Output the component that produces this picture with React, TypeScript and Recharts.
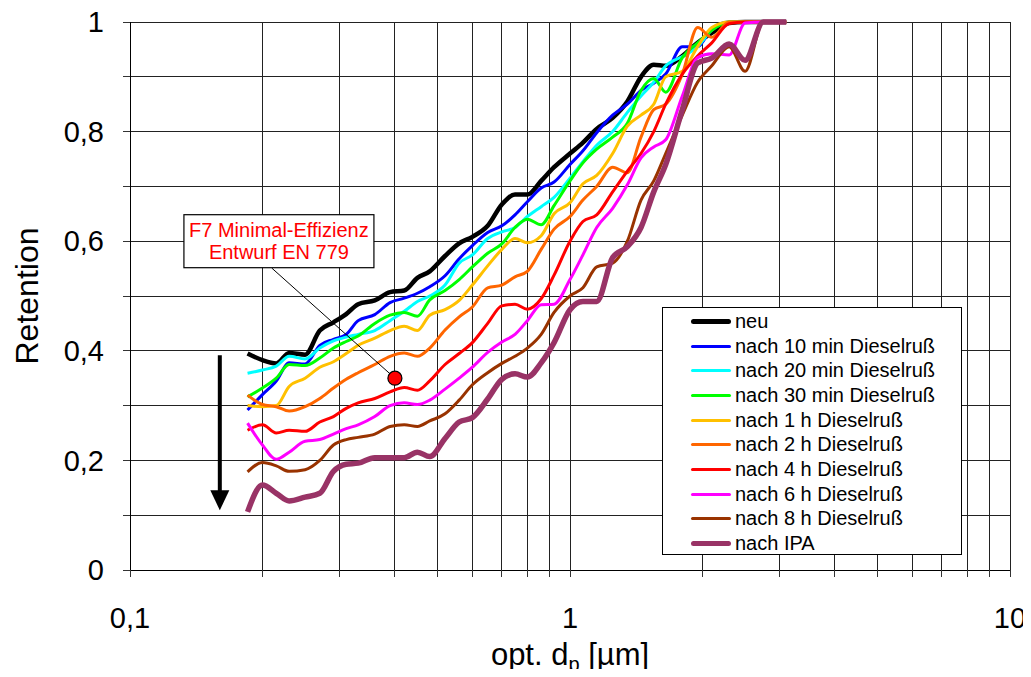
import {
  CartesianGrid,
  Label,
  Line,
  LineChart,
  ReferenceDot,
  ReferenceLine,
  XAxis,
  YAxis
} from "recharts";

// particle size [µm] at which every curve was read
const sizes = [
  0.185, 0.2, 0.215, 0.23, 0.25, 0.27, 0.29, 0.31, 0.33, 0.36, 0.39, 0.42, 0.45,
  0.48, 0.52, 0.56, 0.6, 0.65, 0.7, 0.75, 0.8, 0.86, 0.92, 1.0, 1.07, 1.15, 1.25,
  1.35, 1.45, 1.55, 1.65, 1.8, 1.95, 2.1, 2.3, 2.5, 2.75, 3.1
];

const neu = [
  0.395, 0.383, 0.377, 0.396, 0.393, 0.437, 0.452, 0.467, 0.485, 0.492, 0.507, 0.51, 0.533,
  0.545, 0.573, 0.596, 0.608, 0.628, 0.667, 0.685, 0.685, 0.71, 0.735, 0.76, 0.78, 0.805, 0.825,
  0.855, 0.9, 0.922, 0.92, 0.938, 0.962, 0.98, 0.998, 1, 1, 1
];
const min10 = [
  0.292, 0.32, 0.345, 0.378, 0.376, 0.41, 0.421, 0.43, 0.455, 0.466, 0.488, 0.496, 0.505,
  0.517, 0.537, 0.568, 0.592, 0.616, 0.628, 0.648, 0.672, 0.697, 0.708, 0.74, 0.765, 0.798, 0.83,
  0.85, 0.875, 0.888, 0.905, 0.955, 0.955, 0.988, 1, 1, 1, 1
];
const min20 = [
  0.359, 0.365, 0.372, 0.39, 0.385, 0.405, 0.418, 0.425, 0.43, 0.437, 0.455, 0.472, 0.49,
  0.5, 0.52, 0.56, 0.575, 0.605, 0.617, 0.625, 0.645, 0.663, 0.68, 0.715, 0.745, 0.775, 0.8,
  0.835, 0.865, 0.89, 0.92, 0.937, 0.955, 0.985, 1, 1, 1, 1
];
const min30 = [
  0.316, 0.332, 0.35, 0.375, 0.373, 0.387, 0.405, 0.417, 0.427, 0.45, 0.465, 0.47, 0.463,
  0.493, 0.51, 0.53, 0.553, 0.578, 0.595, 0.625, 0.64, 0.63, 0.665, 0.71, 0.743, 0.768, 0.79,
  0.815, 0.875, 0.897, 0.872, 0.935, 0.962, 0.985, 1, 1, 1, 1
];
const h1 = [
  0.3, 0.298, 0.3, 0.335, 0.35, 0.37, 0.38, 0.395, 0.41, 0.423, 0.437, 0.445, 0.437,
  0.465, 0.475, 0.492, 0.52, 0.555, 0.585, 0.605, 0.597, 0.61, 0.65, 0.67, 0.705, 0.72, 0.76,
  0.81, 0.83, 0.85, 0.9, 0.91, 0.955, 0.99, 1, 1, 1, 1
];
const h2 = [
  0.319, 0.302, 0.298, 0.29, 0.298, 0.313, 0.332, 0.348, 0.36, 0.375, 0.39, 0.396, 0.39,
  0.405, 0.438, 0.462, 0.48, 0.515, 0.52, 0.535, 0.545, 0.585, 0.622, 0.645, 0.675, 0.7, 0.735,
  0.725, 0.79, 0.84, 0.85, 0.905, 0.99, 0.972, 1, 1, 1, 1
];
const h4 = [
  0.255, 0.265, 0.25, 0.255, 0.253, 0.27, 0.28, 0.295, 0.305, 0.313, 0.325, 0.333, 0.328,
  0.345, 0.375, 0.395, 0.415, 0.45, 0.482, 0.485, 0.476, 0.495, 0.538, 0.6, 0.636, 0.648, 0.69,
  0.728, 0.76, 0.8, 0.85, 0.905, 0.938, 0.962, 0.997, 1, 1, 1
];
const h6 = [
  0.268, 0.228, 0.202, 0.215, 0.235, 0.238, 0.248, 0.258, 0.265, 0.28, 0.3, 0.305, 0.302,
  0.31, 0.33, 0.35, 0.37, 0.397, 0.416, 0.43, 0.455, 0.484, 0.485, 0.53, 0.575, 0.625, 0.66,
  0.703, 0.752, 0.772, 0.785, 0.865, 0.935, 0.942, 0.94, 0.998, 1, 1
];
const h8 = [
  0.179, 0.196, 0.19, 0.18, 0.183, 0.2, 0.228, 0.238, 0.242, 0.248, 0.262, 0.265, 0.262,
  0.272, 0.285, 0.31, 0.338, 0.36, 0.377, 0.39, 0.405, 0.43, 0.47, 0.5, 0.515, 0.553, 0.56,
  0.6, 0.675, 0.71, 0.76, 0.83, 0.89, 0.92, 0.955, 0.91, 1, 1
];
const ipa = [
  0.106, 0.155, 0.14, 0.126, 0.133, 0.14, 0.18, 0.193, 0.195, 0.205, 0.205, 0.205, 0.215,
  0.207, 0.24, 0.27, 0.278, 0.312, 0.348, 0.358, 0.352, 0.378, 0.415, 0.475, 0.49, 0.49, 0.57,
  0.59, 0.625, 0.69, 0.74, 0.84, 0.925, 0.934, 0.96, 0.93, 1, 1
];

const series = [
  { key: "neu", name: "neu", color: "#000000", width: 4.5, values: neu },
  { key: "m10", name: "nach 10 min Dieselruß", color: "#0000FF", width: 3, values: min10 },
  { key: "m20", name: "nach 20 min Dieselruß", color: "#00FFFF", width: 3, values: min20 },
  { key: "m30", name: "nach 30 min Dieselruß", color: "#00FF00", width: 3, values: min30 },
  { key: "h1", name: "nach 1 h Dieselruß", color: "#FFC000", width: 3, values: h1 },
  { key: "h2", name: "nach 2 h Dieselruß", color: "#FF6600", width: 3, values: h2 },
  { key: "h4", name: "nach 4 h Dieselruß", color: "#FF0000", width: 3, values: h4 },
  { key: "h6", name: "nach 6 h Dieselruß", color: "#FF00FF", width: 3, values: h6 },
  { key: "h8", name: "nach 8 h Dieselruß", color: "#993300", width: 3, values: h8 },
  { key: "ipa", name: "nach IPA", color: "#993366", width: 5.5, values: ipa }
];

const xTicks = [
  0.1, 0.2, 0.3, 0.4, 0.5, 0.6, 0.7, 0.8, 0.9, 1, 2, 3, 4, 5, 6, 7, 8, 9, 10
];
const xLabels: Record<string, string> = { "0.1": "0,1", "1": "1", "10": "10" };
const yTicks = [0, 0.1, 0.2, 0.3, 0.4, 0.5, 0.6, 0.7, 0.8, 0.9, 1];

// F7 minimum efficiency (draft EN 779) and its callout
const f7Point = { x: 0.4, y: 0.35 };
const f7Box = { x: 0.218, y: 0.6 };
const f7LeaderStart = { x: 0.21, y: 0.551 };
const f7Text = ["F7 Minimal-Effizienz", "Entwurf EN 779"];

// arrow showing the drop of retention with loading
const arrow = { x: 0.16, from: 0.392, to: 0.109 };

const FONT = "'Liberation Sans', Arial, Helvetica, sans-serif";

const data = sizes.map((x, i) => {
  const row: Record<string, number> = { x };
  series.forEach((s) => {
    row[s.key] = s.values[i];
  });
  return row;
});

const fmtY = (v: number) =>
  Math.round(v * 10) % 2 === 0 ? String(v).replace(".", ",") : "";

function ArrowShape(p: any) {
  const head = 20;
  const half = 9.5;
  return (
    <g>
      <line x1={p.x1} y1={p.y1} x2={p.x2} y2={p.y2 - head + 2} stroke="#000" strokeWidth={4} />
      <polygon
        points={`${p.x2 - half},${p.y2 - head} ${p.x2 + half},${p.y2 - head} ${p.x2},${p.y2}`}
        fill="#000"
      />
    </g>
  );
}

function CalloutBox(p: any) {
  const w = 190;
  const h = 53;
  return (
    <g>
      <rect x={p.cx - w / 2} y={p.cy - h / 2} width={w} height={h} fill="#fff" stroke="#000" strokeWidth={1.2} />
      {f7Text.map((t, i) => (
        <text
          key={t}
          x={p.cx}
          y={p.cy - 11 + i * 22}
          textAnchor="middle"
          dominantBaseline="central"
          fill="#FF0000"
          fontSize={20}
          fontFamily={FONT}
        >
          {t}
        </text>
      ))}
    </g>
  );
}

function LegendBox() {
  return (
    <div
      style={{
        position: "absolute",
        left: 662,
        top: 307,
        width: 298,
        height: 245,
        border: "1px solid #000",
        background: "#fff",
        fontFamily: FONT,
        fontSize: 20,
        color: "#000",
        paddingTop: 1
      }}
    >
      {series.map((s) => (
        <div key={s.key} style={{ height: 24.7, display: "flex", alignItems: "center" }}>
          <div
            style={{
              marginLeft: 28,
              width: 40,
              height: s.width,
              background: s.color,
              borderRadius: s.width
            }}
          />
          <span style={{ marginLeft: 4, whiteSpace: "nowrap" }}>{s.name}</span>
        </div>
      ))}
    </div>
  );
}

export default function App() {
  return (
    <div style={{ position: "relative", width: 1031, height: 677, margin: -8, background: "#fff" }}>
      <LineChart
        width={1031}
        height={677}
        data={data}
        margin={{ top: 22, right: 21, left: 20, bottom: 0 }}
      >
        <CartesianGrid stroke="#222" strokeWidth={1} shapeRendering="crispEdges" />
        <XAxis
          dataKey="x"
          type="number"
          scale="log"
          domain={[0.1, 10]}
          ticks={xTicks}
          interval={0}
          tickFormatter={(v) => xLabels[String(v)] ?? ""}
          tick={{ fill: "#000", fontSize: 29, fontFamily: FONT }}
          tickSize={7}
          tickMargin={30}
          axisLine={{ stroke: "#000", shapeRendering: "crispEdges" }}
          tickLine={{ stroke: "#333", shapeRendering: "crispEdges" }}
          height={107}
        >
          <Label
            content={({ viewBox }: any) => (
              <text
                x={viewBox.x + viewBox.width / 2}
                y={viewBox.y + 95}
                textAnchor="middle"
                fontSize={31}
                fontFamily={FONT}
                fill="#000"
              >
                opt. d
                <tspan fontSize={20} dy={6}>p</tspan>
                <tspan dy={-6}> [µm]</tspan>
              </text>
            )}
          />
        </XAxis>
        <YAxis
          type="number"
          domain={[0, 1]}
          ticks={yTicks}
          interval={0}
          tickFormatter={fmtY}
          tick={{ fill: "#000", fontSize: 29, fontFamily: FONT }}
          tickSize={7}
          tickMargin={19}
          axisLine={{ stroke: "#000", shapeRendering: "crispEdges" }}
          tickLine={{ stroke: "#333", shapeRendering: "crispEdges" }}
          width={110}
        >
          <Label
            content={({ viewBox }: any) => {
              const cx = viewBox.x + 7;
              const cy = viewBox.y + viewBox.height / 2;
              return (
                <text
                  x={cx}
                  y={cy}
                  transform={`rotate(-90 ${cx} ${cy})`}
                  textAnchor="middle"
                  dominantBaseline="central"
                  fontSize={32}
                  fontFamily={FONT}
                  fill="#000"
                >
                  Retention
                </text>
              );
            }}
          />
        </YAxis>
        {series.map((s) => (
          <Line
            key={s.key}
            dataKey={s.key}
            name={s.name}
            type="monotone"
            stroke={s.color}
            strokeWidth={s.width}
            dot={false}
            activeDot={false}
            isAnimationActive={false}
          />
        ))}
        <ReferenceLine
          segment={[f7LeaderStart, f7Point]}
          stroke="#000"
          strokeWidth={1}
        />
        <ReferenceDot x={f7Box.x} y={f7Box.y} shape={CalloutBox} />
        <ReferenceDot x={f7Point.x} y={f7Point.y} r={7} fill="#FF0000" stroke="#000" strokeWidth={1.2} />
        <ReferenceLine
          segment={[
            { x: arrow.x, y: arrow.from },
            { x: arrow.x, y: arrow.to }
          ]}
          shape={ArrowShape}
        />
      </LineChart>
      <LegendBox />
    </div>
  );
}
